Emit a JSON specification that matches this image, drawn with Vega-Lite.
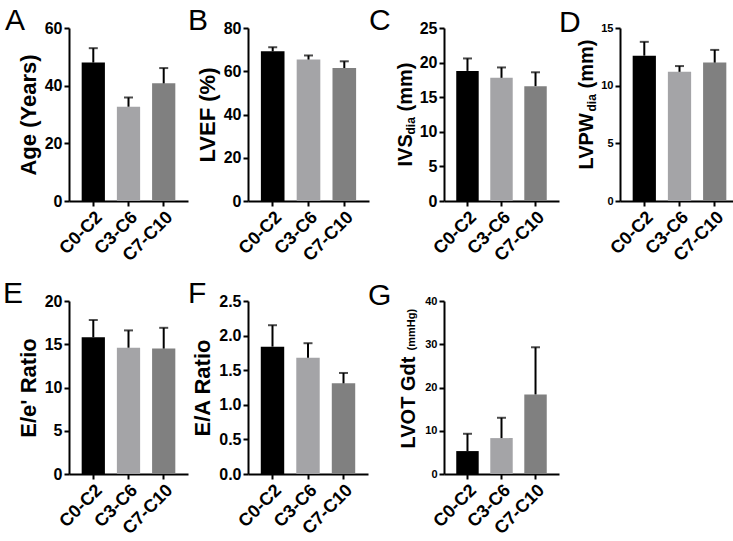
{
  "$schema": "https://vega.github.io/schema/vega-lite/v6.json",
  "padding": {"left": 3, "top": 6, "right": 0, "bottom": 0},
  "datasets": {
    "d": [
      {"panel": "A", "group": "C0-C2", "mean": 48.0, "hi": 53.0},
      {"panel": "A", "group": "C3-C6", "mean": 32.7, "hi": 35.9},
      {"panel": "A", "group": "C7-C10", "mean": 40.8, "hi": 46.1},
      {"panel": "B", "group": "C0-C2", "mean": 69.2, "hi": 71.1},
      {"panel": "B", "group": "C3-C6", "mean": 65.4, "hi": 67.3},
      {"panel": "B", "group": "C7-C10", "mean": 61.5, "hi": 64.6},
      {"panel": "C", "group": "C0-C2", "mean": 18.8, "hi": 20.6},
      {"panel": "C", "group": "C3-C6", "mean": 17.8, "hi": 19.3},
      {"panel": "C", "group": "C7-C10", "mean": 16.6, "hi": 18.6},
      {"panel": "D", "group": "C0-C2", "mean": 12.6, "hi": 13.8},
      {"panel": "D", "group": "C3-C6", "mean": 11.2, "hi": 11.7},
      {"panel": "D", "group": "C7-C10", "mean": 12.0, "hi": 13.1},
      {"panel": "E", "group": "C0-C2", "mean": 15.8, "hi": 17.8},
      {"panel": "E", "group": "C3-C6", "mean": 14.6, "hi": 16.6},
      {"panel": "E", "group": "C7-C10", "mean": 14.5, "hi": 16.9},
      {"panel": "F", "group": "C0-C2", "mean": 1.84, "hi": 2.15},
      {"panel": "F", "group": "C3-C6", "mean": 1.68, "hi": 1.89},
      {"panel": "F", "group": "C7-C10", "mean": 1.31, "hi": 1.46},
      {"panel": "G", "group": "C0-C2", "mean": 5.3, "hi": 9.3},
      {"panel": "G", "group": "C3-C6", "mean": 8.3, "hi": 13.0},
      {"panel": "G", "group": "C7-C10", "mean": 18.4, "hi": 29.3}
    ]
  },
  "vconcat": [
    {
      "spacing": 0,
      "hconcat": [
        {
          "width": 119, "height": 173,
          "title": {"text": "A", "dx": -64},
          "data": {"name": "d"},
          "transform": [{"filter": "datum.panel === 'A'"}],
          "resolve": {"axis": {"y": "independent"}},
          "encoding": {"x": {"field": "group", "type": "nominal", "sort": ["C0-C2", "C3-C6", "C7-C10"], "scale": {"paddingInner": 0.34, "paddingOuter": 0.36}, "axis": {"title": null}}},
          "layer": [
            {"mark": {"type": "bar"}, "encoding": {"y": {"field": "mean", "type": "quantitative", "scale": {"domain": [0, 60], "nice": false}, "axis": {"orient": "left", "values": [0, 20, 40, 60], "title": "Age (Years)"}}, "color": {"field": "group", "type": "nominal", "scale": {"domain": ["C0-C2", "C3-C6", "C7-C10"], "range": ["#000000", "#a4a4a7", "#808080"]}, "legend": null}}},
            {"mark": {"type": "rule", "color": "black", "strokeWidth": 2}, "encoding": {"y": {"field": "mean", "type": "quantitative", "axis": {"orient": "left", "labels": false, "ticks": false, "domain": false, "title": null}}, "y2": {"field": "hi"}}},
            {"mark": {"type": "tick", "color": "black", "thickness": 2, "size": 9}, "encoding": {"y": {"field": "hi", "type": "quantitative", "axis": {"orient": "left", "labels": false, "ticks": false, "domain": false, "title": null}}}}
          ]
        },
        {
          "width": 121, "height": 173,
          "title": {"text": "B", "dx": -60},
          "data": {"name": "d"},
          "transform": [{"filter": "datum.panel === 'B'"}],
          "resolve": {"axis": {"y": "independent"}},
          "encoding": {"x": {"field": "group", "type": "nominal", "sort": ["C0-C2", "C3-C6", "C7-C10"], "scale": {"paddingInner": 0.34, "paddingOuter": 0.36}, "axis": {"title": null}}},
          "layer": [
            {"mark": {"type": "bar"}, "encoding": {"y": {"field": "mean", "type": "quantitative", "scale": {"domain": [0, 80], "nice": false}, "axis": {"orient": "left", "values": [0, 20, 40, 60, 80], "title": "LVEF (%)"}}, "color": {"field": "group", "type": "nominal", "scale": {"domain": ["C0-C2", "C3-C6", "C7-C10"], "range": ["#000000", "#a4a4a7", "#808080"]}, "legend": null}}},
            {"mark": {"type": "rule", "color": "black", "strokeWidth": 2}, "encoding": {"y": {"field": "mean", "type": "quantitative", "axis": {"orient": "left", "labels": false, "ticks": false, "domain": false, "title": null}}, "y2": {"field": "hi"}}},
            {"mark": {"type": "tick", "color": "black", "thickness": 2, "size": 9}, "encoding": {"y": {"field": "hi", "type": "quantitative", "axis": {"orient": "left", "labels": false, "ticks": false, "domain": false, "title": null}}}}
          ]
        },
        {
          "width": 115, "height": 173,
          "title": {"text": "C", "dx": -75},
          "data": {"name": "d"},
          "transform": [{"filter": "datum.panel === 'C'"}],
          "resolve": {"axis": {"y": "independent"}},
          "encoding": {"x": {"field": "group", "type": "nominal", "sort": ["C0-C2", "C3-C6", "C7-C10"], "scale": {"paddingInner": 0.34, "paddingOuter": 0.36}, "axis": {"title": null}}},
          "layer": [
            {"mark": {"type": "bar"}, "encoding": {"y": {"field": "mean", "type": "quantitative", "scale": {"domain": [0, 25], "nice": false}, "axis": {"orient": "left", "values": [0, 5, 10, 15, 20, 25], "title": "IVS", "titleFontSize": 20, "titleAlign": "left", "titleBaseline": "alphabetic", "titleX": -33, "titleY": 138}}, "color": {"field": "group", "type": "nominal", "scale": {"domain": ["C0-C2", "C3-C6", "C7-C10"], "range": ["#000000", "#a4a4a7", "#808080"]}, "legend": null}}},
            {"mark": {"type": "rule", "color": "black", "strokeWidth": 2}, "encoding": {"y": {"field": "mean", "type": "quantitative", "axis": {"orient": "left", "labels": false, "ticks": false, "domain": false, "title": "dia", "titleFontSize": 12, "titleAlign": "left", "titleBaseline": "alphabetic", "titleX": -30, "titleY": 106}}, "y2": {"field": "hi"}}},
            {"mark": {"type": "tick", "color": "black", "thickness": 2, "size": 9}, "encoding": {"y": {"field": "hi", "type": "quantitative", "axis": {"orient": "left", "labels": false, "ticks": false, "domain": false, "title": "(mm)", "titleFontSize": 20, "titleAlign": "left", "titleBaseline": "alphabetic", "titleX": -33, "titleY": 83}}}}
          ]
        },
        {
          "width": 119, "height": 173,
          "title": {"text": "D", "dx": -61},
          "data": {"name": "d"},
          "transform": [{"filter": "datum.panel === 'D'"}],
          "resolve": {"axis": {"y": "independent"}},
          "encoding": {"x": {"field": "group", "type": "nominal", "sort": ["C0-C2", "C3-C6", "C7-C10"], "scale": {"paddingInner": 0.34, "paddingOuter": 0.36}, "axis": {"title": null}}},
          "layer": [
            {"mark": {"type": "bar"}, "encoding": {"y": {"field": "mean", "type": "quantitative", "scale": {"domain": [0, 15], "nice": false}, "axis": {"orient": "left", "values": [0, 5, 10, 15], "labelFontSize": 11, "title": "LVPW", "titleFontSize": 20, "titleAlign": "left", "titleBaseline": "alphabetic", "titleX": -28, "titleY": 141}}, "color": {"field": "group", "type": "nominal", "scale": {"domain": ["C0-C2", "C3-C6", "C7-C10"], "range": ["#000000", "#a4a4a7", "#808080"]}, "legend": null}}},
            {"mark": {"type": "rule", "color": "black", "strokeWidth": 2}, "encoding": {"y": {"field": "mean", "type": "quantitative", "axis": {"orient": "left", "labels": false, "ticks": false, "domain": false, "title": "dia", "titleFontSize": 12, "titleAlign": "left", "titleBaseline": "alphabetic", "titleX": -25, "titleY": 83}}, "y2": {"field": "hi"}}},
            {"mark": {"type": "tick", "color": "black", "thickness": 2, "size": 9}, "encoding": {"y": {"field": "hi", "type": "quantitative", "axis": {"orient": "left", "labels": false, "ticks": false, "domain": false, "title": "(mm)", "titleFontSize": 20, "titleAlign": "left", "titleBaseline": "alphabetic", "titleX": -28, "titleY": 60}}}}
          ]
        }
      ]
    },
    {
      "spacing": 0,
      "hconcat": [
        {
          "width": 119, "height": 173,
          "title": {"text": "E", "dx": -66},
          "data": {"name": "d"},
          "transform": [{"filter": "datum.panel === 'E'"}],
          "resolve": {"axis": {"y": "independent"}},
          "encoding": {"x": {"field": "group", "type": "nominal", "sort": ["C0-C2", "C3-C6", "C7-C10"], "scale": {"paddingInner": 0.34, "paddingOuter": 0.36}, "axis": {"title": null}}},
          "layer": [
            {"mark": {"type": "bar"}, "encoding": {"y": {"field": "mean", "type": "quantitative", "scale": {"domain": [0, 20], "nice": false}, "axis": {"orient": "left", "values": [0, 5, 10, 15, 20], "title": "E/e' Ratio"}}, "color": {"field": "group", "type": "nominal", "scale": {"domain": ["C0-C2", "C3-C6", "C7-C10"], "range": ["#000000", "#a4a4a7", "#808080"]}, "legend": null}}},
            {"mark": {"type": "rule", "color": "black", "strokeWidth": 2}, "encoding": {"y": {"field": "mean", "type": "quantitative", "axis": {"orient": "left", "labels": false, "ticks": false, "domain": false, "title": null}}, "y2": {"field": "hi"}}},
            {"mark": {"type": "tick", "color": "black", "thickness": 2, "size": 9}, "encoding": {"y": {"field": "hi", "type": "quantitative", "axis": {"orient": "left", "labels": false, "ticks": false, "domain": false, "title": null}}}}
          ]
        },
        {
          "width": 120, "height": 173,
          "title": {"text": "F", "dx": -60},
          "data": {"name": "d"},
          "transform": [{"filter": "datum.panel === 'F'"}],
          "resolve": {"axis": {"y": "independent"}},
          "encoding": {"x": {"field": "group", "type": "nominal", "sort": ["C0-C2", "C3-C6", "C7-C10"], "scale": {"paddingInner": 0.34, "paddingOuter": 0.36}, "axis": {"title": null}}},
          "layer": [
            {"mark": {"type": "bar"}, "encoding": {"y": {"field": "mean", "type": "quantitative", "scale": {"domain": [0, 2.5], "nice": false}, "axis": {"orient": "left", "values": [0, 0.5, 1, 1.5, 2, 2.5], "format": ".1f", "title": "E/A Ratio"}}, "color": {"field": "group", "type": "nominal", "scale": {"domain": ["C0-C2", "C3-C6", "C7-C10"], "range": ["#000000", "#a4a4a7", "#808080"]}, "legend": null}}},
            {"mark": {"type": "rule", "color": "black", "strokeWidth": 2}, "encoding": {"y": {"field": "mean", "type": "quantitative", "axis": {"orient": "left", "labels": false, "ticks": false, "domain": false, "title": null}}, "y2": {"field": "hi"}}},
            {"mark": {"type": "tick", "color": "black", "thickness": 2, "size": 9}, "encoding": {"y": {"field": "hi", "type": "quantitative", "axis": {"orient": "left", "labels": false, "ticks": false, "domain": false, "title": null}}}}
          ]
        },
        {
          "width": 115, "height": 173,
          "title": {"text": "G", "dx": -76},
          "data": {"name": "d"},
          "transform": [{"filter": "datum.panel === 'G'"}],
          "resolve": {"axis": {"y": "independent"}},
          "encoding": {"x": {"field": "group", "type": "nominal", "sort": ["C0-C2", "C3-C6", "C7-C10"], "scale": {"paddingInner": 0.34, "paddingOuter": 0.36}, "axis": {"title": null}}},
          "layer": [
            {"mark": {"type": "bar"}, "encoding": {"y": {"field": "mean", "type": "quantitative", "scale": {"domain": [0, 40], "nice": false}, "axis": {"orient": "left", "values": [0, 10, 20, 30, 40], "labelFontSize": 11, "title": "LVOT Gdt", "titleFontSize": 20, "titleAlign": "left", "titleBaseline": "alphabetic", "titleX": -30, "titleY": 147}}, "color": {"field": "group", "type": "nominal", "scale": {"domain": ["C0-C2", "C3-C6", "C7-C10"], "range": ["#000000", "#a4a4a7", "#808080"]}, "legend": null}}},
            {"mark": {"type": "rule", "color": "black", "strokeWidth": 2}, "encoding": {"y": {"field": "mean", "type": "quantitative", "axis": {"orient": "left", "labels": false, "ticks": false, "domain": false, "title": "(mmHg)", "titleFontSize": 11, "titleAlign": "left", "titleBaseline": "alphabetic", "titleX": -30, "titleY": 49}}, "y2": {"field": "hi"}}},
            {"mark": {"type": "tick", "color": "black", "thickness": 2, "size": 9}, "encoding": {"y": {"field": "hi", "type": "quantitative", "axis": {"orient": "left", "labels": false, "ticks": false, "domain": false, "title": null}}}}
          ]
        }
      ]
    }
  ],
  "spacing": 14,
  "config": {
    "view": {"stroke": null},
    "font": "Liberation Sans",
    "axis": {
      "domainColor": "black", "domainWidth": 2, "tickColor": "black", "tickWidth": 2, "tickSize": 5,
      "labelColor": "black", "labelFont": "Liberation Sans", "labelFontWeight": "bold", "labelFontSize": 16, "labelPadding": 2,
      "titleFont": "Liberation Sans", "titleFontWeight": "bold", "titleColor": "black", "titleFontSize": 22, "titlePadding": 4, "grid": false
    },
    "axisX": {"labelAngle": -45, "labelFontSize": 18},
    "title": {"font": "Liberation Sans", "fontSize": 30, "fontWeight": "normal", "color": "black", "anchor": "start", "frame": "group", "baseline": "alphabetic", "offset": 0, "dy": 20}
  }
}
